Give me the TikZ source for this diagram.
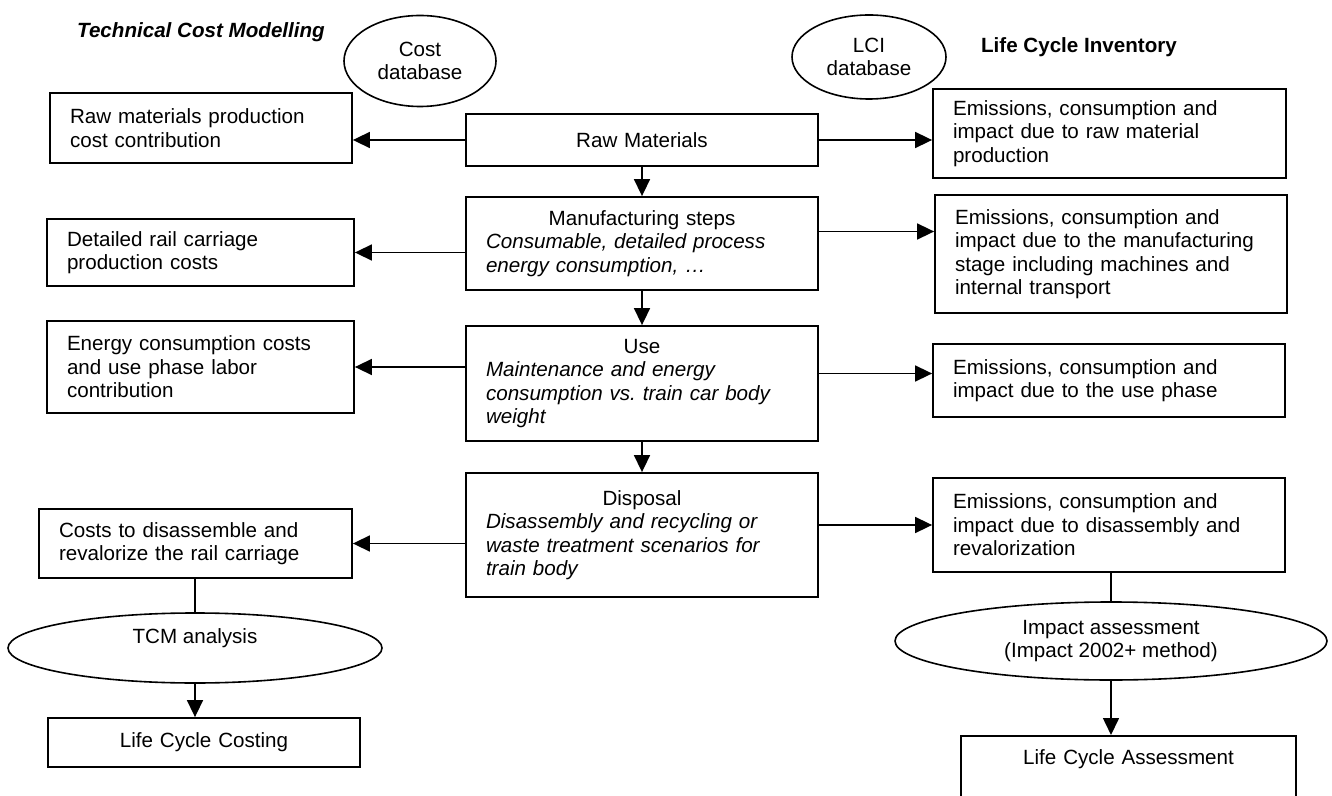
\documentclass[tikz,border=0pt]{standalone}
\usepackage{fontspec}
\setmainfont{Liberation Sans}
\usetikzlibrary{
  arrows.meta,
  shapes.geometric
}
\newcommand{\stagehead}[1]{\makebox[156pt]{#1}}

\begin{document}
\begin{tikzpicture}[x=0.5pt, y=-0.5pt,
    font=\fontsize{10.3}{11.75}\selectfont,
    box/.style = {draw, line width=0.9pt, inner xsep=10pt, inner ysep=0pt, align=left},
    stage/.style = {box, text width=156pt},
    oval/.style = {draw, line width=0.8pt, shape=ellipse, inner sep=0pt, align=center},
    link/.style = {line width=0.8pt},
    flow/.style = {link, -{Triangle[length=8.5pt, width=8pt]}},
    heading/.style = {font=\fontsize{10.3}{11.75}\selectfont\bfseries}]
  \useasboundingbox (0,0) rectangle (1332,796);
  \clip (0,0) rectangle (1332,796);

  \node[heading] (tcmtitle) at (201,32) {\itshape Technical Cost Modelling};
  \node[heading] (lcititle) at (1079,47) {Life Cycle Inventory};
  \node[oval, minimum width=76pt, minimum height=45.5pt] (costdb) at (420,61) {Cost\\database};
  \node[oval, minimum width=77pt, minimum height=42pt] (lcidb) at (869,57) {LCI\\database};

  \node[stage, align=center, minimum height=26pt] (raw) at (642,140) {Raw Materials};
  \node[stage, minimum height=46.5pt] (manuf) at (642,243.5)
    {\stagehead{Manufacturing steps}\\ \itshape Consumable, detailed process\\ energy consumption, \ldots};
  \node[stage, minimum height=57.5pt] (use) at (642,383.5)
    {\stagehead{Use}\\ \itshape Maintenance and energy\\ consumption vs.\ train car body\\ weight};
  \node[stage, minimum height=62pt] (disposal) at (642,535)
    {\stagehead{Disposal}\\ \itshape Disassembly and recycling or\\ waste treatment scenarios for\\ train body};

  \node[box, text width=131pt, minimum height=35pt] (rawcost) at (201,128)
    {Raw materials production\\cost contribution};
  \node[box, text width=133.5pt, minimum height=33.5pt] (manufcost) at (200.5,252.5)
    {Detailed rail carriage\\production costs};
  \node[box, text width=133.5pt, minimum height=46pt] (usecost) at (200.5,367)
    {Energy consumption costs\\and use phase labor\\contribution};
  \node[box, text width=136.5pt, minimum height=34.5pt] (dispcost) at (195.5,543.5)
    {Costs to disassemble and\\revalorize the rail carriage};
  \node[oval, minimum width=187pt, minimum height=35pt] (tcm) at (195,648) {TCM analysis\\\mbox{}};
  \node[box, text width=136pt, align=center, minimum height=24.5pt] (lcc) at (204,742.5) {Life Cycle Costing};

  \node[box, text width=156.5pt, minimum height=44.5pt] (rawimp) at (1109.5,133.5)
    {Emissions, consumption and\\impact due to raw material\\production};
  \node[box, text width=156pt, minimum height=59pt] (manufimp) at (1111,254)
    {Emissions, consumption and\\impact due to the manufacturing\\stage including machines and\\internal transport};
  \node[box, text width=156pt, minimum height=36.5pt] (useimp) at (1109,380.5)
    {Emissions, consumption and\\impact due to the use phase};
  \node[box, text width=156pt, minimum height=47pt] (dispimp) at (1109,525)
    {Emissions, consumption and\\impact due to disassembly and\\revalorization};
  \node[oval, minimum width=216pt, minimum height=39pt] (impact) at (1111,641)
    {Impact assessment\\(Impact 2002+ method)};
  \node[box, text width=147.5pt, align=center, anchor=north, text height=14.5pt, text depth=40pt] (lca) at (1128.5,735)
    {Life Cycle Assessment};

  \draw[flow] (raw) -- (manuf);
  \draw[flow] (manuf) -- (use);
  \draw[flow] (use) -- (disposal);
  \draw[flow] (raw.west) -- (raw.west -| rawcost.east);
  \draw[flow] (raw.east) -- (raw.east -| rawimp.west);
  \draw[flow] (manuf.west |- manufcost) -- (manufcost.east);
  \draw[flow] ([yshift=6pt]manuf.east) -- ([yshift=6pt]manuf.east -| manufimp.west);
  \draw[flow] (use.west |- usecost) -- (usecost.east);
  \draw[flow] ([yshift=3.5pt]useimp.west -| use.east) -- ([yshift=3.5pt]useimp.west);
  \draw[flow] (disposal.west |- dispcost) -- (dispcost.east);
  \draw[flow] (disposal.east |- dispimp) -- (dispimp.west);
  \draw[link] (tcm.north |- dispcost.south) -- (tcm.north);
  \draw[flow] (tcm.south) -- (tcm.south |- lcc.north);
  \draw[link] (impact.north |- dispimp.south) -- (impact.north);
  \draw[flow] (impact.south) -- (impact.south |- lca.north);
\end{tikzpicture}
\end{document}
